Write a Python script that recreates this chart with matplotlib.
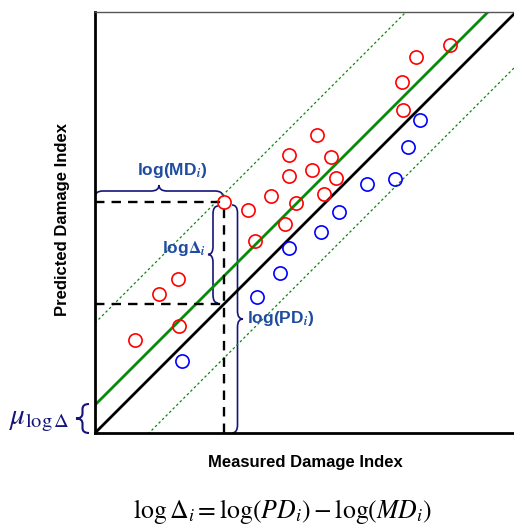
import numpy as np
import matplotlib.pyplot as plt
from matplotlib.path import Path
from matplotlib.patches import PathPatch

plt.rcParams['mathtext.fontset'] = 'stix'

# data (log units)
red_x = [3.55, 3.21, 3.07, 3.08, 2.22, 1.94, 2.36, 1.94, 2.17, 2.41, 1.76,
         2.29, 2.01, 1.29, 1.53, 1.90, 1.60, 0.83, 0.64, 0.84, 0.40]
red_y = [3.88, 3.76, 3.51, 3.23, 2.98, 2.78, 2.76, 2.57, 2.63, 2.55, 2.37,
         2.39, 2.30, 2.31, 2.23, 2.09, 1.92, 1.54, 1.39, 1.07, 0.93]
blue_x = [3.25, 3.13, 3.00, 2.72, 2.44, 2.26, 1.94, 1.85, 1.62, 0.87]
blue_y = [3.13, 2.86, 2.54, 2.49, 2.21, 2.01, 1.85, 1.60, 1.36, 0.72]

mu = 0.28      # mean log ratio
band = 0.82    # +/- band around the mean line
md_x, md_y = 1.29, 2.31   # highlighted point

xmax, ymax = 4.19, 4.21
text_blue = '#1f4c9e'
brace_col = '#14147a'


def brace(ax, p0, p1, w, q=0.08, **kw):
    # curly brace from p0 to p1, bulging by w along the left normal
    p0 = np.array(p0, float)
    p1 = np.array(p1, float)
    d = p1 - p0
    L = np.hypot(*d)
    t = d / L
    n = np.array([-t[1], t[0]])
    h = w / 2
    pts_local = [(0, 0), (0, h), (q, h),
                 (L/2 - q, h), (L/2, h), (L/2, w),
                 (L/2, h), (L/2 + q, h),
                 (L - q, h), (L, h), (L, 0)]
    codes = [Path.MOVETO, Path.CURVE3, Path.CURVE3,
             Path.LINETO, Path.CURVE3, Path.CURVE3,
             Path.CURVE3, Path.CURVE3,
             Path.LINETO, Path.CURVE3, Path.CURVE3]
    verts = [p0 + a * t + b * n for a, b in pts_local]
    ax.add_patch(PathPatch(Path(verts, codes), fill=False, **kw))


fig = plt.figure(figsize=(5.14, 5.27), dpi=100)
ax = fig.add_axes([95/514, 94/527, 419/514, 421/527])
ax.set_xlim(0, xmax)
ax.set_ylim(0, ymax)
ax.set_xticks([])
ax.set_yticks([])
ax.spines['right'].set_visible(False)
ax.spines['left'].set_linewidth(2)
ax.spines['bottom'].set_linewidth(2)
ax.spines['top'].set_color('#555555')
ax.spines['top'].set_linewidth(1)

xx = np.array([0, xmax])
ax.plot(xx, xx, color='black', lw=2)
ax.plot(xx, xx + mu, color='#0a8a0a', lw=2)
ax.plot(xx, xx + mu + band, color='#0a8a0a', lw=0.9, ls=(0, (2, 2)))
ax.plot(xx, xx + mu - band, color='#0a8a0a', lw=0.9, ls=(0, (2, 2)))

# dashed guides for the highlighted point
ax.plot([0, md_x], [md_y, md_y], color='black', lw=1.7, ls=(0, (4, 3)))
ax.plot([0, md_x], [md_x, md_x], color='black', lw=1.7, ls=(0, (4, 3)))
ax.plot([md_x, md_x], [0, md_y], color='black', lw=1.7, ls=(0, (4, 3)))

ax.plot(red_x, red_y, 'o', mfc='none', mec='red', ms=9.5, mew=1.2)
ax.plot(blue_x, blue_y, 'o', mfc='none', mec='blue', ms=9.5, mew=1.2)

# braces
brace(ax, (0, 2.36), (md_x - 0.01, 2.36), 0.12, color=brace_col, lw=1.2)
brace(ax, (1.23, 1.30), (1.23, 2.27), 0.10, color=brace_col, lw=1.2)
brace(ax, (1.37, 0.0), (1.37, 2.28), -0.11, color=brace_col, lw=1.2)
brace(ax, (-0.06, 0.0), (-0.06, 0.29), 0.13, q=0.05, color=brace_col, lw=1.5, clip_on=False)

bold = dict(fontweight='bold', family='Liberation Sans', color=text_blue, fontsize=12.5)
ax.text(0.77, 2.63, r'log(MD$_{\mathbfit{i}}$)', ha='center', va='center', **bold)
ax.text(1.11, 1.84, r'log$\mathbf{\Delta}_{\mathbfit{i}}$', ha='right', va='center', **bold)
ax.text(1.52, 1.14, r'log(PD$_{\mathbfit{i}}$)', ha='left', va='center', **bold)

ax.text(-0.56, 0.13, r'$\mu_{\log\Delta}$', ha='center', va='center',
        fontsize=21, color=brace_col, clip_on=False)

fig.text(305/514, 1 - 462/527, 'Measured Damage Index', ha='center', va='center',
         fontweight='bold', family='Liberation Sans', fontsize=12)
fig.text(62/514, 1 - 220/527, 'Predicted Damage Index', ha='center', va='center',
         rotation=90, fontweight='bold', family='Liberation Sans', fontsize=12)
fig.text(283/514, 1 - 512/527, r'$\log\Delta_i = \log(PD_i) - \log(MD_i)$',
         ha='center', va='center', fontsize=18.5)

fig.savefig('out.png', dpi=100)
